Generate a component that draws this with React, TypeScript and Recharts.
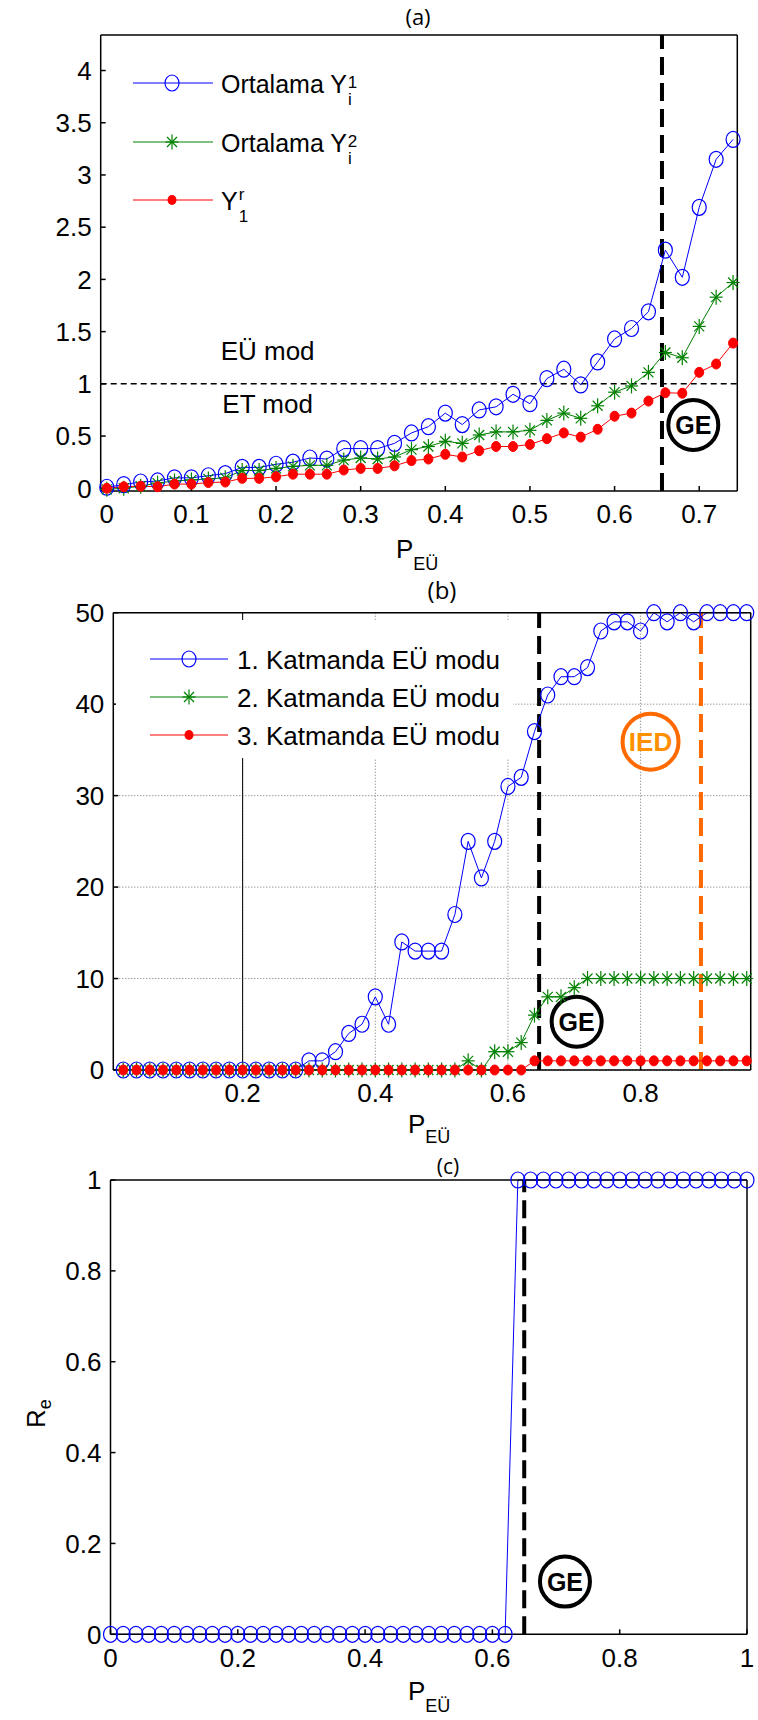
import React from 'react';
import { LineChart, Line, XAxis, YAxis, ReferenceLine, ReferenceDot, Legend, CartesianGrid } from 'recharts';

const AX = '"Liberation Sans", Arial, sans-serif';
const TITLE_FONT = '"Open Sans", "Noto Sans", sans-serif';
const BLUE = '#0000ff';
const GREEN = '#008000';
const RED = '#ff0000';
const ORANGE = '#ff6a00';

// ---------- panel (a) ----------
const pA = [0, 0.02, 0.04, 0.06, 0.08, 0.1, 0.12, 0.14, 0.16, 0.18, 0.2, 0.22, 0.24, 0.26, 0.28, 0.3, 0.32, 0.34, 0.36, 0.38,
  0.4, 0.42, 0.44, 0.46, 0.48, 0.5, 0.52, 0.54, 0.56, 0.58, 0.6, 0.62, 0.64, 0.66, 0.68, 0.7, 0.72, 0.74];
const ortalamaY1 = [0.01, 0.035, 0.06, 0.07, 0.1, 0.1, 0.12, 0.14, 0.2, 0.2, 0.23, 0.25, 0.29, 0.28, 0.38, 0.38, 0.38, 0.43, 0.53, 0.59,
  0.72, 0.61, 0.75, 0.78, 0.9, 0.81, 1.05, 1.14, 0.99, 1.21, 1.43, 1.53, 1.69, 2.28, 2.02, 2.69, 3.15, 3.34];
const ortalamaY2 = [-0.01, 0, 0.02, 0.05, 0.07, 0.08, 0.09, 0.1, 0.17, 0.17, 0.19, 0.21, 0.22, 0.22, 0.27, 0.29, 0.28, 0.3, 0.37, 0.4,
  0.45, 0.43, 0.51, 0.54, 0.54, 0.555, 0.65, 0.72, 0.67, 0.79, 0.92, 0.98, 1.11, 1.3, 1.25, 1.55, 1.83, 1.97];
const y1r = [0, 0.015, 0.02, 0.015, 0.04, 0.04, 0.055, 0.06, 0.095, 0.095, 0.11, 0.135, 0.135, 0.135, 0.175, 0.19, 0.19, 0.215, 0.265, 0.28,
  0.325, 0.3, 0.36, 0.4, 0.4, 0.42, 0.475, 0.53, 0.49, 0.565, 0.69, 0.72, 0.835, 0.915, 0.91, 1.11, 1.19, 1.39];
const xTicksA = [0, 0.1, 0.2, 0.3, 0.4, 0.5, 0.6, 0.7];
const yTicksA = [0, 0.5, 1, 1.5, 2, 2.5, 3, 3.5, 4];

// ---------- panel (b) ----------
const pB = [0.02, 0.04, 0.06, 0.08, 0.1, 0.12, 0.14, 0.16, 0.18, 0.2, 0.22, 0.24, 0.26, 0.28, 0.3, 0.32, 0.34, 0.36, 0.38, 0.4,
  0.42, 0.44, 0.46, 0.48, 0.5, 0.52, 0.54, 0.56, 0.58, 0.6, 0.62, 0.64, 0.66, 0.68, 0.7, 0.72, 0.74, 0.76, 0.78, 0.8,
  0.82, 0.84, 0.86, 0.88, 0.9, 0.92, 0.94, 0.96];
const katman1 = [0, 0, 0, 0, 0, 0, 0, 0, 0, 0, 0, 0, 0, 0, 1, 1, 2, 4, 5, 8,
  5, 14, 13, 13, 13, 17, 25, 21, 25, 31, 32, 37, 41, 43, 43, 44, 48, 49, 49, 48,
  50, 49, 50, 49, 50, 50, 50, 50];
const katman2 = [0, 0, 0, 0, 0, 0, 0, 0, 0, 0, 0, 0, 0, 0, 0, 0, 0, 0, 0, 0,
  0, 0, 0, 0, 0, 0, 1, 0, 2, 2, 3, 6, 8, 8, 9, 10, 10, 10, 10, 10,
  10, 10, 10, 10, 10, 10, 10, 10];
const katman3 = [0, 0, 0, 0, 0, 0, 0, 0, 0, 0, 0, 0, 0, 0, 0, 0, 0, 0, 0, 0,
  0, 0, 0, 0, 0, 0, 0, 0, 0, 0, 0, 1, 1, 1, 1, 1, 1, 1, 1, 1,
  1, 1, 1, 1, 1, 1, 1, 1];
const xTicksB = [0.2, 0.4, 0.6, 0.8];
const yTicksB = [0, 10, 20, 30, 40, 50];

// ---------- panel (c) ----------
const pC = [0, 0.02, 0.04, 0.06, 0.08, 0.1, 0.12, 0.14, 0.16, 0.18, 0.2, 0.22, 0.24, 0.26, 0.28, 0.3, 0.32, 0.34, 0.36, 0.38,
  0.4, 0.42, 0.44, 0.46, 0.48, 0.5, 0.52, 0.54, 0.56, 0.58, 0.6, 0.62, 0.64, 0.66, 0.68, 0.7, 0.72, 0.74, 0.76, 0.78,
  0.8, 0.82, 0.84, 0.86, 0.88, 0.9, 0.92, 0.94, 0.96, 0.98, 1];
const re = [0, 0, 0, 0, 0, 0, 0, 0, 0, 0, 0, 0, 0, 0, 0, 0, 0, 0, 0, 0,
  0, 0, 0, 0, 0, 0, 0, 0, 0, 0, 0, 0, 1, 1, 1, 1, 1, 1, 1, 1,
  1, 1, 1, 1, 1, 1, 1, 1, 1, 1, 1];
const xTicksC = [0, 0.2, 0.4, 0.6, 0.8, 1];
const yTicksC = [0, 0.2, 0.4, 0.6, 0.8, 1];

const dataA = pA.map((x, i) => ({ x, y1: ortalamaY1[i], y2: ortalamaY2[i], yr: y1r[i] }));
const dataB = pB.map((x, i) => ({ x, k1: katman1[i], k2: katman2[i], k3: katman3[i] }));
const dataC = pC.map((x, i) => ({ x, re: re[i] }));

// ---------- markers ----------
const circleDot = (p: any) => (
  <ellipse key={`c${p.index}`} cx={p.cx} cy={p.cy} rx={7} ry={8} fill="none" stroke={BLUE} strokeWidth={1.2} />
);
const starDot = (p: any) => {
  const { cx, cy } = p;
  const a = 6.5, b = 7.5, d = 5;
  return (
    <g key={`s${p.index}`} stroke={GREEN} strokeWidth={1.2}>
      <line x1={cx - a} y1={cy} x2={cx + a} y2={cy} />
      <line x1={cx} y1={cy - b} x2={cx} y2={cy + b} />
      <line x1={cx - d} y1={cy - d} x2={cx + d} y2={cy + d} />
      <line x1={cx - d} y1={cy + d} x2={cx + d} y2={cy - d} />
    </g>
  );
};
const redDot = (p: any) => (
  <ellipse key={`r${p.index}`} cx={p.cx} cy={p.cy} rx={4.5} ry={5} fill={RED} stroke={RED} />
);

const circled = (label: string, stroke: string, fill: string, r: number, fs: number) => (p: any) => (
  <g>
    <circle cx={p.cx} cy={p.cy} r={r} fill="none" stroke={stroke} strokeWidth={4} />
    <text x={p.cx} y={p.cy + fs * 0.36} textAnchor="middle" fontSize={fs} fontWeight="bold" fontFamily={AX} fill={fill}>{label}</text>
  </g>
);
const plainText = (label: string) => (p: any) => (
  <text x={p.cx} y={p.cy + 9.5} textAnchor="middle" fontSize={26} fontFamily={AX} fill="#000">{label}</text>
);

const tickStyle = { fontSize: 26, fontFamily: AX, fill: '#000' };
const axisLine = { stroke: '#000', strokeWidth: 1.5 };
const tickLine = { stroke: '#000', strokeWidth: 1.5 };

const axes = (xDomain: number[], xTicks: number[], yDomain: number[], yTicks: number[]) => [
  <XAxis key="xb" xAxisId="b" type="number" dataKey="x" domain={xDomain} ticks={xTicks} interval={0}
    height={1} tickSize={-5} tickMargin={19} tick={tickStyle} axisLine={axisLine} tickLine={tickLine} />,
  <XAxis key="xt" xAxisId="t" orientation="top" type="number" dataKey="x" domain={xDomain} ticks={xTicks} interval={0}
    height={1} tickSize={-5} tick={false} axisLine={axisLine} tickLine={tickLine} />,
  <YAxis key="yl" yAxisId="l" type="number" domain={yDomain} ticks={yTicks} interval={0}
    width={1} tickSize={-5} tickMargin={14} tick={tickStyle} axisLine={axisLine} tickLine={tickLine} />,
  <YAxis key="yr" yAxisId="r" orientation="right" type="number" domain={yDomain} ticks={yTicks} interval={0}
    width={1} tickSize={-5} tick={false} axisLine={axisLine} tickLine={tickLine} />,
];

// plot-area edges -> margins (axes take 1px each)
const m = (W: number, H: number, left: number, top: number, right: number, bottom: number) => ({
  left: left - 1, top: top - 1, right: W - right - 1, bottom: H - bottom - 1,
});

const LegendA = () => (
  <svg width={290} height={180} style={{ display: 'block', overflow: 'visible' }} fontFamily={AX}>
    <line x1={13} y1={33} x2={93} y2={33} stroke={BLUE} />
    <ellipse cx={52} cy={33} rx={7} ry={8} fill="none" stroke={BLUE} strokeWidth={1.2} />
    <text x={101} y={43} fontSize={25}>Ortalama Y<tspan fontSize={17} dx={1} dy={12}>i</tspan><tspan fontSize={17} dx={-4} dy={-17}>1</tspan></text>
    <line x1={13} y1={92} x2={93} y2={92} stroke={GREEN} />
    {starDot({ cx: 52, cy: 92, index: 'l' })}
    <text x={101} y={102} fontSize={25}>Ortalama Y<tspan fontSize={17} dx={1} dy={12}>i</tspan><tspan fontSize={17} dx={-4} dy={-17}>2</tspan></text>
    <line x1={13} y1={150} x2={93} y2={150} stroke={RED} />
    <ellipse cx={52} cy={150} rx={4.5} ry={5} fill={RED} />
    <text x={101} y={160} fontSize={25}>Y<tspan fontSize={17} dx={1} dy={-10}>r</tspan><tspan fontSize={17} dx={-5.7} dy={22}>1</tspan></text>
  </svg>
);

const LegendB = () => (
  <svg width={397} height={138} style={{ display: 'block' }} fontFamily={AX}>
    <line x1={34} y1={39} x2={112} y2={39} stroke={BLUE} />
    <ellipse cx={73} cy={39} rx={7} ry={8} fill="none" stroke={BLUE} strokeWidth={1.2} />
    <text x={121} y={48.5} fontSize={26}>1. Katmanda EÜ modu</text>
    <line x1={34} y1={77} x2={112} y2={77} stroke={GREEN} />
    {starDot({ cx: 73, cy: 77, index: 'l' })}
    <text x={121} y={86.5} fontSize={26}>2. Katmanda EÜ modu</text>
    <line x1={34} y1={115} x2={112} y2={115} stroke={RED} />
    <ellipse cx={73} cy={115} rx={4.5} ry={5} fill={RED} />
    <text x={121} y={124.5} fontSize={26}>3. Katmanda EÜ modu</text>
  </svg>
);

export default function App() {
  return (
    <div style={{ position: 'absolute', left: 0, top: 0, width: 758, height: 1720, background: '#fff' }}>
      {/* (a) */}
      <div style={{ position: 'absolute', left: 0, top: 0 }}>
        <LineChart width={758} height={560} data={dataA} margin={m(758, 560, 100.7, 35, 737.3, 491)}>
          {axes([-0.0072, 0.745], xTicksA, [-0.026, 4.34], yTicksA)}
          <ReferenceLine xAxisId="b" yAxisId="l" y={1} stroke="#000" strokeWidth={1.5} strokeDasharray="6 4" />
          <ReferenceLine xAxisId="b" yAxisId="l" x={0.656} stroke="#000" strokeWidth={4} strokeDasharray="18 8" />
          <Line xAxisId="b" yAxisId="l" dataKey="y1" stroke={BLUE} strokeWidth={1} dot={circleDot} activeDot={false} isAnimationActive={false} />
          <Line xAxisId="b" yAxisId="l" dataKey="y2" stroke={GREEN} strokeWidth={1} dot={starDot} activeDot={false} isAnimationActive={false} />
          <Line xAxisId="b" yAxisId="l" dataKey="yr" stroke={RED} strokeWidth={1} dot={redDot} activeDot={false} isAnimationActive={false} />
          <ReferenceDot xAxisId="b" yAxisId="l" x={0.19} y={1.32} r={0} shape={plainText('EÜ mod')} />
          <ReferenceDot xAxisId="b" yAxisId="l" x={0.19} y={0.81} r={0} shape={plainText('ET mod')} />
          <ReferenceDot xAxisId="b" yAxisId="l" x={0.693} y={0.606} r={25} shape={circled('GE', '#000', '#000', 25, 25)} />
          <Legend layout="vertical" align="center" verticalAlign="middle" content={<LegendA />}
            wrapperStyle={{ left: 120, top: 50, width: 290, height: 180 }} />
        </LineChart>
      </div>

      {/* (b) */}
      <div style={{ position: 'absolute', left: 0, top: 560 }}>
        <LineChart width={758} height={580} data={dataB} margin={m(758, 580, 113.3, 52.7, 750.7, 510)}>
          <CartesianGrid xAxisId="b" yAxisId="l" stroke="#707070" strokeDasharray="1 2" />
          {axes([0.005, 0.966], xTicksB, [0, 50], yTicksB)}
          <ReferenceLine xAxisId="b" yAxisId="l" x={0.2} stroke="#000" strokeWidth={1} />
          <ReferenceLine xAxisId="b" yAxisId="l" x={0.647} stroke="#000" strokeWidth={4} strokeDasharray="18 8" />
          <ReferenceLine xAxisId="b" yAxisId="l" x={0.891} stroke={ORANGE} strokeWidth={4} strokeDasharray="18 8" />
          <Line xAxisId="b" yAxisId="l" dataKey="k1" stroke={BLUE} strokeWidth={1} dot={circleDot} activeDot={false} isAnimationActive={false} />
          <Line xAxisId="b" yAxisId="l" dataKey="k2" stroke={GREEN} strokeWidth={1} dot={starDot} activeDot={false} isAnimationActive={false} />
          <Line xAxisId="b" yAxisId="l" dataKey="k3" stroke={RED} strokeWidth={1} dot={redDot} activeDot={false} isAnimationActive={false} />
          <ReferenceDot xAxisId="b" yAxisId="l" x={0.7036} y={5.28} r={25} shape={circled('GE', '#000', '#000', 25, 25)} />
          <ReferenceDot xAxisId="b" yAxisId="l" x={0.815} y={35.9} r={28} shape={circled('IED', ORANGE, '#ff9000', 28, 26)} />
          <Legend layout="vertical" align="center" verticalAlign="middle" content={<LegendB />}
            wrapperStyle={{ left: 116, top: 60, width: 397, height: 138, background: '#fff' }} />
        </LineChart>
      </div>

      {/* (c) */}
      <div style={{ position: 'absolute', left: 0, top: 1140 }}>
        <LineChart width={758} height={580} data={dataC} margin={m(758, 580, 110.5, 40, 747, 494.3)}>
          {axes([0, 1], xTicksC, [0, 1], yTicksC)}
          <ReferenceLine xAxisId="b" yAxisId="l" x={0.65} stroke="#000" strokeWidth={4} strokeDasharray="18 8" />
          <Line xAxisId="b" yAxisId="l" dataKey="re" stroke={BLUE} strokeWidth={1} dot={circleDot} activeDot={false} isAnimationActive={false} />
          <ReferenceDot xAxisId="b" yAxisId="l" x={0.714} y={0.116} r={25} shape={circled('GE', '#000', '#000', 25, 25)} />
        </LineChart>
      </div>

      {/* titles and axis labels */}
      <svg width={758} height={1720} style={{ position: 'absolute', left: 0, top: 0, pointerEvents: 'none' }}>
        <text x={418} y={25} textAnchor="middle" fontSize={22} fontFamily={TITLE_FONT}>(a)</text>
        <text x={442} y={599} textAnchor="middle" fontSize={24} fontFamily={TITLE_FONT}>(b)</text>
        <text x={448} y={1174} textAnchor="middle" fontSize={21} fontFamily={TITLE_FONT}>(c)</text>
        <text x={396} y={558} fontSize={26} fontFamily={AX}>P<tspan fontSize={18} dy={12}>EÜ</tspan></text>
        <text x={408} y={1133} fontSize={26} fontFamily={AX}>P<tspan fontSize={18} dy={10}>EÜ</tspan></text>
        <text x={408} y={1700} fontSize={26} fontFamily={AX}>P<tspan fontSize={18} dy={12}>EÜ</tspan></text>
        <text transform="translate(45,1428) rotate(-90)" fontSize={26} fontFamily={AX}>R<tspan fontSize={18} dy={6}>e</tspan></text>
      </svg>
    </div>
  );
}
